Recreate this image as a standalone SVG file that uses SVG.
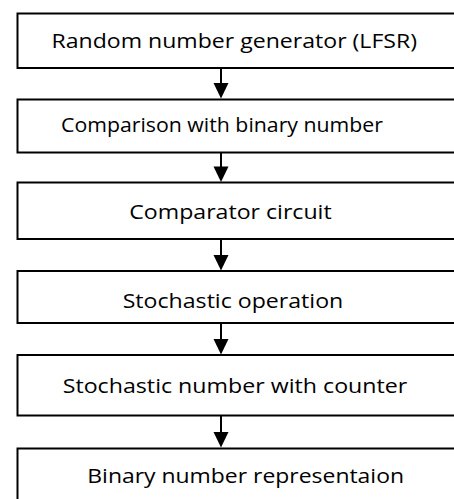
<svg xmlns="http://www.w3.org/2000/svg" width="454" height="499" viewBox="0 0 454 499">
<style>
.box{fill:#fff;stroke:#000;stroke-width:2}
.lbl{font-family:"Open Sans","Noto Sans","Liberation Sans",sans-serif;font-size:19.5px;fill:#000}
.conn line{stroke:#000;stroke-width:2}
.conn polygon{fill:#000}
</style>
<rect width="454" height="499" fill="#fff"/>
<g id="n1"><rect class="box" x="17.5" y="13.5" width="450" height="54.5"/><text class="lbl" x="51.5" y="47.5" textLength="365.5" lengthAdjust="spacingAndGlyphs">Random number generator (LFSR)</text></g>
<g id="n2"><rect class="box" x="17.5" y="99.5" width="450" height="53"/><text class="lbl" x="61" y="131.5" textLength="322" lengthAdjust="spacingAndGlyphs">Comparison with binary number</text></g>
<g id="n3"><rect class="box" x="17.5" y="182.5" width="450" height="56.5"/><text class="lbl" x="129.3" y="219.3" textLength="202.4" lengthAdjust="spacingAndGlyphs">Comparator circuit</text></g>
<g id="n4"><rect class="box" x="17.5" y="271" width="450" height="52"/><text class="lbl" x="122.7" y="308" textLength="220.6" lengthAdjust="spacingAndGlyphs">Stochastic operation</text></g>
<g id="n5"><rect class="box" x="17.5" y="355" width="450" height="60.5"/><text class="lbl" x="62.7" y="392.7" textLength="344.6" lengthAdjust="spacingAndGlyphs">Stochastic number with counter</text></g>
<g id="n6"><rect class="box" x="17.5" y="448.5" width="450" height="60"/><text class="lbl" x="87.3" y="483.3" textLength="316.7" lengthAdjust="spacingAndGlyphs">Binary number representaion</text></g>
<g id="connectors" class="conn">
<line x1="221" y1="68" x2="221" y2="84"/><polygon points="213.5,83 228.5,83 221,98.5"/>
<line x1="221" y1="152.5" x2="221" y2="167"/><polygon points="213.5,166.5 228.5,166.5 221,182"/>
<line x1="221" y1="239" x2="221" y2="256"/><polygon points="213.5,255 228.5,255 221,270.5"/>
<line x1="221" y1="323" x2="221" y2="340"/><polygon points="213.5,339 228.5,339 221,354.5"/>
<line x1="221" y1="415.5" x2="221" y2="433"/><polygon points="213.5,432 228.5,432 221,447.5"/>
</g>
</svg>
